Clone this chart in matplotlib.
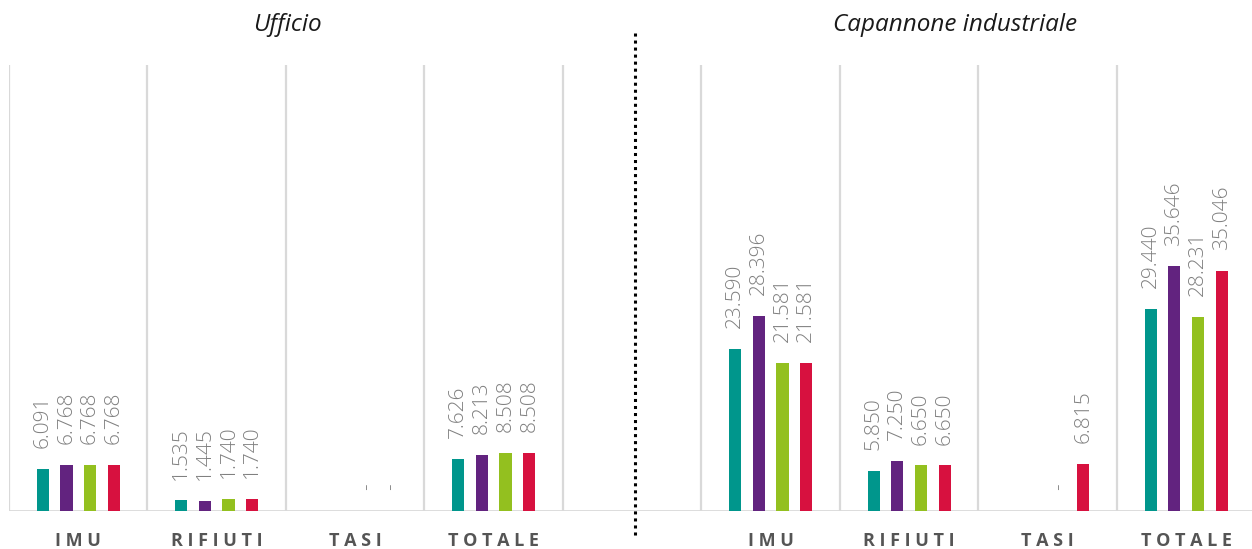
import numpy as np
import matplotlib
matplotlib.use("Agg")
from matplotlib import pyplot as plt
from matplotlib.lines import Line2D

# categories (empty slot separates the two building types)
categories = ["IMU", "RIFIUTI", "TASI", "TOTALE", "", "IMU", "RIFIUTI", "TASI", "TOTALE"]
panel_titles = ["Ufficio", "Capannone industriale"]

nan = np.nan
series_1 = [6091, 1535, nan, 7626, nan, 23590, 5850, nan, 29440]
series_2 = [6768, 1445, nan, 8213, nan, 28396, 7250, nan, 35646]
series_3 = [6768, 1740, 0, 8508, nan, 21581, 6650, 0, 28231]
series_4 = [6768, 1740, 0, 8508, nan, 21581, 6650, 6815, 35046]

colors = ["#00968C", "#62237F", "#93C01F", "#D7113F"]


def fmt(v):
    if v == 0:
        return "-"
    return f"{v:,.0f}".replace(",", ".")


W, H = 1252, 549
fig = plt.figure(figsize=(W / 100, H / 100), dpi=100)
ax = fig.add_axes([9 / W, (H - 511) / H, (W - 9) / W, (511 - 65) / H])

x = np.arange(len(categories))
slot = 0.171
bar_w = 0.088
all_series = [series_1, series_2, series_3, series_4]
for i, (vals, c) in enumerate(zip(all_series, colors)):
    xs = x + (i - 1.5) * slot
    vals = np.array(vals, dtype=float)
    ax.bar(xs, np.nan_to_num(vals), width=bar_w, color=c, zorder=3)
    for xi, v in zip(xs, vals):
        if np.isnan(v):
            continue
        ax.annotate(fmt(v), (xi, v), xytext=(0, 15), textcoords="offset points",
                    rotation=90, ha="center", va="bottom", fontsize=15,
                    color="#808080", family="Open Sans", fontweight="light")

ax.set_xlim(-0.5, 8.475)
ax.set_ylim(0, 65000)
ax.vlines(np.arange(-0.5, 8.0, 1.0), 0, 65000, color="#d9d9d9", lw=1.6, zorder=1)
ax.axhline(0, color="#d9d9d9", lw=2, zorder=2)
for s in ax.spines.values():
    s.set_visible(False)
ax.set_yticks([])
ax.set_xticks(x)
ax.set_xticklabels([" ".join(c) for c in categories], fontsize=13, fontweight="bold",
                   color="#555555", family="Open Sans")
ax.tick_params(axis="x", length=0, pad=15)

fig.text(287 / W, (H - 25) / H, panel_titles[0], ha="center", va="center",
         fontsize=17.5, style="italic", family="Open Sans", color="#1a1a1a")
fig.text(955 / W, (H - 25) / H, panel_titles[1], ha="center", va="center",
         fontsize=17.5, style="italic", family="Open Sans", color="#1a1a1a")

fig.add_artist(Line2D([635 / W, 635 / W], [(H - 33) / H, (H - 538) / H],
                      transform=fig.transFigure, color="black", lw=2.2,
                      linestyle=(0, (1, 1.3))))

fig.savefig("out.png", dpi=100)
